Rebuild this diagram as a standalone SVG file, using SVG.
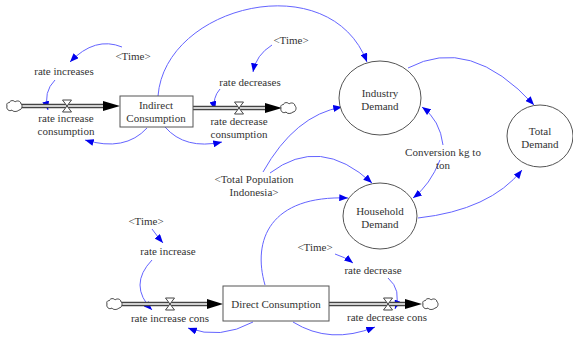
<svg xmlns="http://www.w3.org/2000/svg" width="573" height="338" viewBox="0 0 573 338">
<style>
text{font-family:"Liberation Serif","Times New Roman","DejaVu Serif",serif;font-size:11px;fill:#333;text-anchor:middle}
.lnk{fill:none;stroke:#6464ff;stroke-width:1;marker-end:url(#ah)}
.pipeo{fill:none;stroke:#444;stroke-width:4.5}
.pipei{fill:none;stroke:#fff;stroke-width:1.6}
.node{fill:#fff;stroke:#555;stroke-width:1}
.valve{fill:#fff;stroke:#444;stroke-width:1}
.cloud{fill:#fff;stroke:#444;stroke-width:1}
.flowhead{fill:#000}
</style>
<defs>
<marker id="ah" viewBox="0 0 10 8" refX="10" refY="4" markerWidth="9" markerHeight="7" markerUnits="userSpaceOnUse" orient="auto">
<path d="M0,0 L10,4 L0,8 Z" fill="#0000ee"/>
</marker>
<path id="cloudshape" d="M-5,-3 C-4,-6 0,-6 1,-4 C3,-6 7,-5 7,-2 C9,-1 8,4 5,4 C3,6 -1,6 -2,4 C-5,6 -8,3 -7,0 C-8,-2 -6,-4 -5,-3 Z"/>
<path id="valveshape" d="M-4.5,-6 L4.5,-6 L-4.5,6 L4.5,6 Z"/>
</defs>

<g id="connectors">
<path class="lnk" d="M122,47 Q95,36 70,62"/>
<path class="lnk" d="M55,80 Q43,92 48,110"/>
<path class="lnk" d="M147,128 Q125,152 85,140"/>
<path class="lnk" d="M165,127 Q185,150 222,142"/>
<path class="lnk" d="M272,45 Q256,55 253,72"/>
<path class="lnk" d="M220,89 Q212,98 215,110"/>
<path class="lnk" d="M158,96 C165,5 330,-35 367,62"/>
<path class="lnk" d="M408,68 Q470,35 534,105"/>
<path class="lnk" d="M443,145 Q440,120 422,107"/>
<path class="lnk" d="M440,160 Q430,185 413,198"/>
<path class="lnk" d="M263,172 Q295,115 342,107"/>
<path class="lnk" d="M270,173 Q320,135 372,183"/>
<path class="lnk" d="M265,285 C252,240 270,195 348,198"/>
<path class="lnk" d="M418,218 Q490,210 522,170"/>
<path class="lnk" d="M152,229 Q157,236 163,243"/>
<path class="lnk" d="M152,260 Q128,285 152,310"/>
<path class="lnk" d="M253,322 Q220,340 188,328"/>
<path class="lnk" d="M293,322 Q330,345 375,327"/>
<path class="lnk" d="M335,254 Q345,257 353,263"/>
<path class="lnk" d="M388,278 Q402,290 395,309"/>
</g>

<g id="flow-indirect-in">
<path class="pipeo" d="M21,106 H105"/>
<path class="pipei" d="M21,106 H105"/>
<path class="flowhead" d="M103,101 L120,106 L103,111 Z"/>
<use href="#cloudshape" class="cloud" x="14" y="106"/>
<use href="#valveshape" class="valve" x="67" y="106"/>
</g>
<g id="flow-indirect-out">
<path class="pipeo" d="M193,108 H267"/>
<path class="pipei" d="M193,108 H267"/>
<path class="flowhead" d="M265,103 L282,108 L265,113 Z"/>
<use href="#cloudshape" class="cloud" x="288" y="108"/>
<use href="#valveshape" class="valve" x="239" y="108"/>
</g>
<g id="flow-direct-in">
<path class="pipeo" d="M120,304 H208"/>
<path class="pipei" d="M120,304 H208"/>
<path class="flowhead" d="M207,299 L223,304 L207,309 Z"/>
<use href="#cloudshape" class="cloud" x="114" y="304"/>
<use href="#valveshape" class="valve" x="170" y="304"/>
</g>
<g id="flow-direct-out">
<path class="pipeo" d="M329,304 H407"/>
<path class="pipei" d="M329,304 H407"/>
<path class="flowhead" d="M405,299 L422,304 L405,309 Z"/>
<use href="#cloudshape" class="cloud" x="430" y="304"/>
<use href="#valveshape" class="valve" x="388" y="304"/>
</g>

<g id="indirect-consumption">
<rect class="node" x="120" y="96" width="73" height="31"/>
<text x="156" y="109">Indirect</text>
<text x="156" y="122">Consumption</text>
</g>
<g id="direct-consumption">
<rect class="node" x="223" y="286" width="106" height="35"/>
<text x="276" y="308">Direct Consumption</text>
</g>
<g id="industry-demand">
<ellipse class="node" cx="380" cy="98" rx="41" ry="37"/>
<text x="380" y="97">Industry</text>
<text x="380" y="110">Demand</text>
</g>
<g id="total-demand">
<ellipse class="node" cx="540" cy="136" rx="33" ry="31"/>
<text x="540" y="135">Total</text>
<text x="540" y="148">Demand</text>
</g>
<g id="household-demand">
<ellipse class="node" cx="380" cy="216" rx="37" ry="33"/>
<text x="380" y="215">Household</text>
<text x="380" y="228">Demand</text>
</g>
<g id="conversion">
<text x="443" y="156">Conversion kg to</text>
<text x="443" y="169">ton</text>
</g>
<g id="total-population">
<text x="254" y="183">&lt;Total Population</text>
<text x="254" y="196">Indonesia&gt;</text>
</g>
<g id="time-1"><text x="133" y="60">&lt;Time&gt;</text></g>
<g id="rate-increases"><text x="64" y="75">rate increases</text></g>
<g id="rate-increase-consumption">
<text x="66" y="122">rate increase</text>
<text x="66" y="135">consumption</text>
</g>
<g id="time-2"><text x="291" y="44">&lt;Time&gt;</text></g>
<g id="rate-decreases"><text x="250" y="86">rate decreases</text></g>
<g id="rate-decrease-consumption">
<text x="239" y="125">rate decrease</text>
<text x="239" y="138">consumption</text>
</g>
<g id="time-3"><text x="146" y="225">&lt;Time&gt;</text></g>
<g id="rate-increase"><text x="168" y="255">rate increase</text></g>
<g id="rate-increase-cons"><text x="170" y="322">rate increase cons</text></g>
<g id="time-4"><text x="315" y="251">&lt;Time&gt;</text></g>
<g id="rate-decrease"><text x="373" y="274">rate decrease</text></g>
<g id="rate-decrease-cons"><text x="387" y="321">rate decrease cons</text></g>
</svg>
